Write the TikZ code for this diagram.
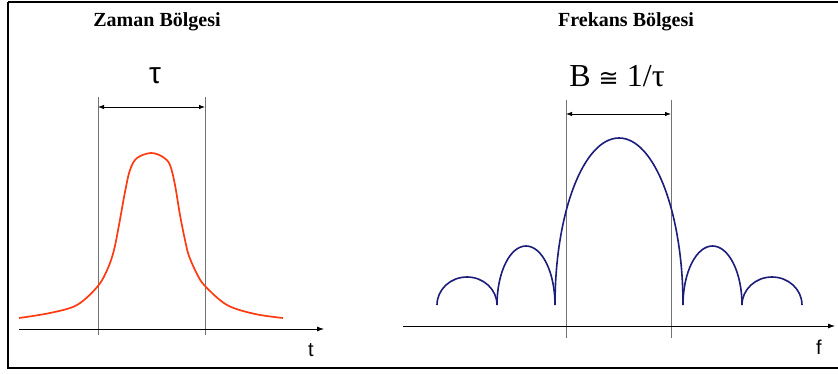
\documentclass[tikz,border=0pt]{standalone}
\usepackage{fontspec}
\setmainfont{Liberation Serif}
\newfontfamily\arialf{Liberation Sans}
\newfontfamily\symf{DejaVu Sans}
\newfontfamily\timesb{Liberation Serif}
\usetikzlibrary{arrows.meta}
\definecolor{pulsered}{HTML}{FF3A10}
\definecolor{lobeblue}{HTML}{1C1C7A}
\tikzset{
  guide/.style={draw=black!55, line width=0.6pt},
  dimarrow/.style={draw=black, line width=0.8pt, {Latex[length=6pt,width=4.5pt]}-{Latex[length=6pt,width=4.5pt]}},
  axis/.style={draw=black, line width=0.8pt, -{Latex[length=7pt,width=5pt]}},
  titletext/.style={font=\timesb\bfseries\fontsize{20}{22}\selectfont, inner sep=0pt},
  lobe/.style={draw=lobeblue, line width=1.6pt},
}
\begin{document}
\begin{tikzpicture}[x=1pt,y=-1pt]
\useasboundingbox (0,0) rectangle (838,374);
\begin{scope}
\clip (0,0) rectangle (838,374);
\draw[line width=2pt] (8,2) -- (850,2);
\draw[line width=2pt] (850,368) -- (8,368) -- (8,2);
\end{scope}

% ---------- left panel ----------
\node[titletext] (ttl1) at (157,22) {Zaman Bölgesi};
\node[inner sep=0pt, font=\arialf\fontsize{30}{32}\selectfont] (tau) at (155,76) {τ};
\coordinate (l1t) at (98,97);
\coordinate (l1b) at (98,335);
\coordinate (r1t) at (205,97);
\coordinate (r1b) at (205,335);
\draw[guide] (l1t) -- (l1b);
\draw[guide] (r1t) -- (r1b);
\coordinate (a1l) at (98,107);
\coordinate (a1r) at (205,107);
\draw[dimarrow] (a1l) -- (a1r);
\coordinate (ax1s) at (19,329);
\coordinate (ax1e) at (324,329);
\draw[axis] (ax1s) -- (ax1e);
\node[inner sep=0pt, font=\arialf\fontsize{20}{22}\selectfont] (tlab) at (311,350) {t};
\draw[pulsered, line width=1.7pt, smooth, tension=0.55] plot coordinates {
 (19,318) (50,313) (77,305) (98,286) (108,268) (114,250) (119,225) (125,192) (130,170) (137,158) (151,153) (163,157) (170,165) (175,185) (180,215) (185,240) (189,256) (197,274) (205,286) (227,305) (255,314) (283,318)};

% ---------- right panel ----------
\node[titletext] (ttl2) at (626,22) {Frekans Bölgesi};
\node[inner sep=0pt, font=\fontsize{32}{34}\selectfont] (bw) at (617,76) {B {\symf\fontsize{24}{30}\selectfont ≅} 1/τ};
\coordinate (l2t) at (566,100);
\coordinate (l2b) at (566,338);
\coordinate (r2t) at (671,100);
\coordinate (r2b) at (671,338);
\draw[guide] (l2t) -- (l2b);
\draw[guide] (r2t) -- (r2b);
\coordinate (a2l) at (566,114);
\coordinate (a2r) at (671,114);
\draw[dimarrow] (a2l) -- (a2r);
\coordinate (ax2s) at (403,326);
\coordinate (ax2e) at (835,326);
\draw[axis] (ax2s) -- (ax2e);
\node[inner sep=0pt, font=\arialf\fontsize{20}{22}\selectfont] (flab) at (819,347) {f};

\draw[lobe] (437,305) arc[start angle=180, end angle=360, x radius=30, y radius=28];
\draw[lobe] (497,305) arc[start angle=180, end angle=360, x radius=29, y radius=59];
\draw[lobe] (555,305) arc[start angle=180, end angle=360, x radius=64, y radius=167];
\draw[lobe] (683,305) arc[start angle=180, end angle=360, x radius=29.5, y radius=59];
\draw[lobe] (742,305) arc[start angle=180, end angle=360, x radius=30, y radius=28];
\end{tikzpicture}
\end{document}
